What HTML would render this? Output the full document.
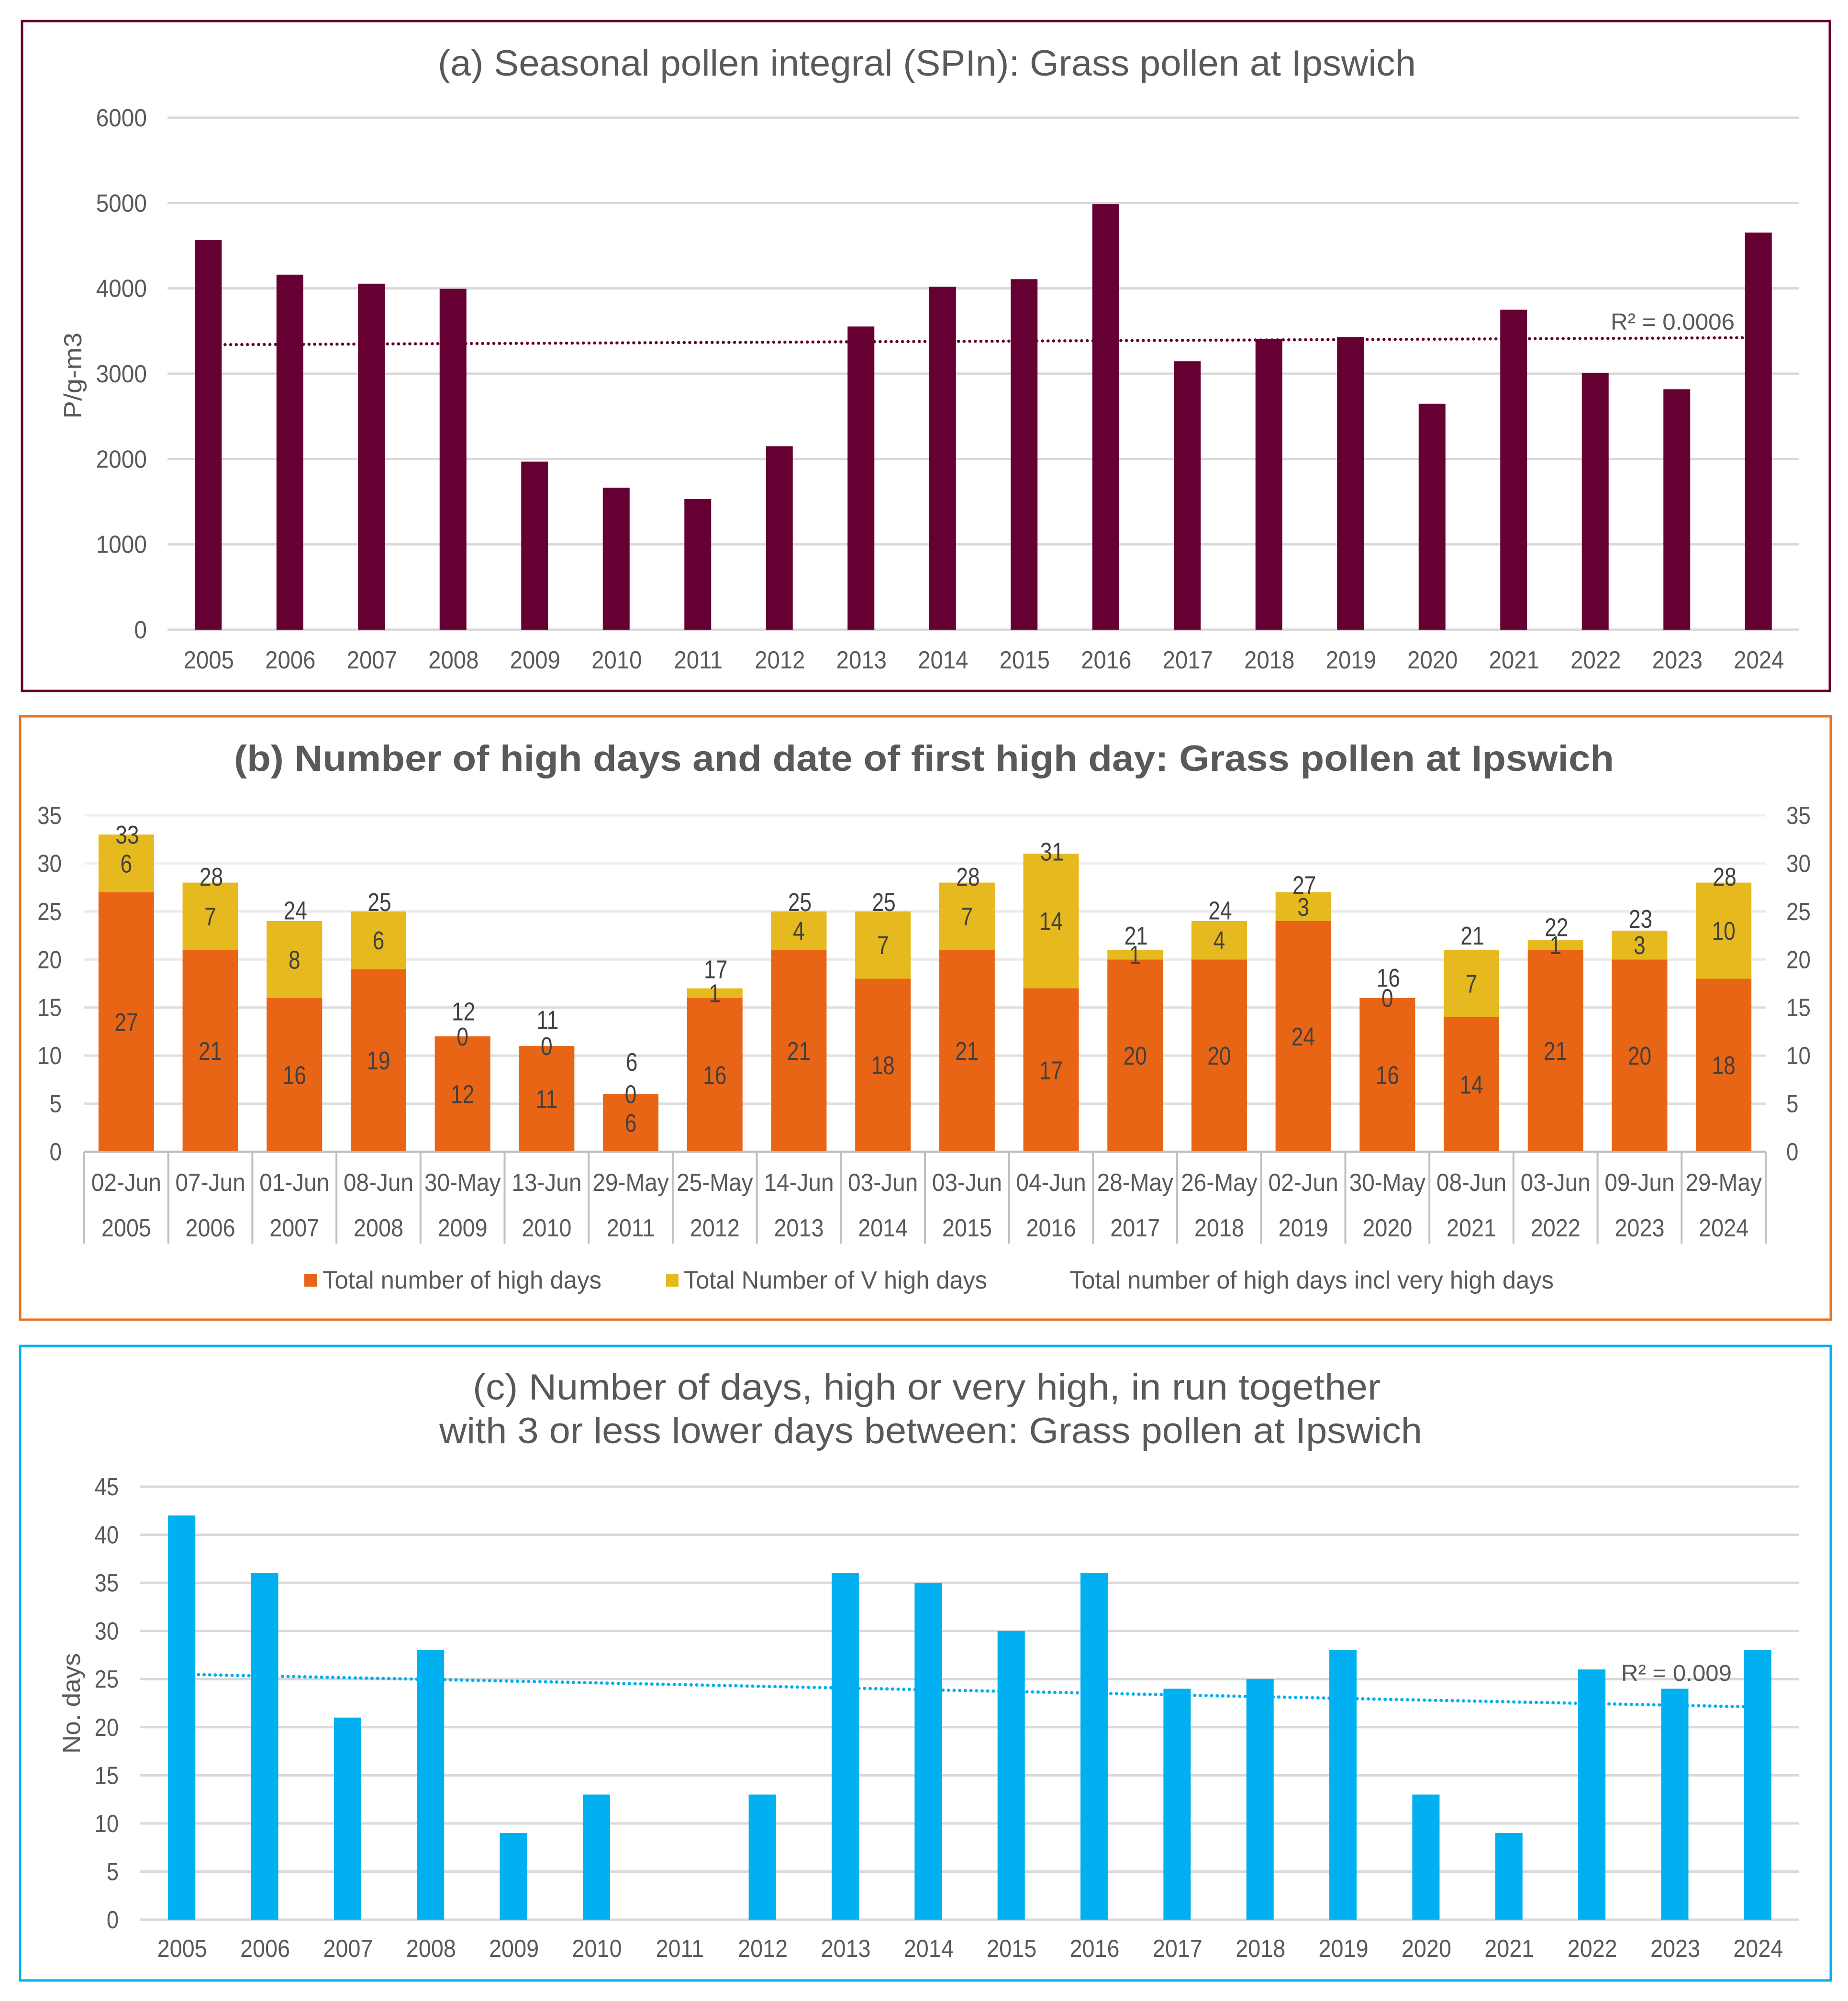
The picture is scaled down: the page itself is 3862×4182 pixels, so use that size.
<!DOCTYPE html>
<html lang="en">
<head>
<meta charset="utf-8">
<title>Grass pollen at Ipswich</title>
<style>
html,body{margin:0;padding:0;background:#fff;}
svg{display:block;}
text{font-family:"Liberation Sans",sans-serif;fill:#595959;}
</style>
</head>
<body>
<svg id="figure" xmlns="http://www.w3.org/2000/svg" width="3862" height="4182" viewBox="0 0 3862 4182">
  <rect x="0" y="0" width="3862" height="4182" fill="#ffffff"/>

  <g id="panel-a">
    <rect x="46" y="44" width="3778" height="1400" fill="none" stroke="#660033" stroke-width="5"/>
    <text x="915" y="158" font-size="76" textLength="2044" lengthAdjust="spacingAndGlyphs">(a) Seasonal pollen integral (SPIn): Grass pollen at Ipswich</text>
    <text transform="translate(170 875) rotate(-90)" font-size="52" textLength="180" lengthAdjust="spacingAndGlyphs">P/g-m3</text>
    <g id="plot-a"></g>
    <text x="3366" y="689" font-size="48" textLength="259" lengthAdjust="spacingAndGlyphs">R² = 0.0006</text>
  </g>

  <g id="panel-b">
    <rect x="42" y="1497" width="3784" height="1261" fill="none" stroke="#e8701f" stroke-width="5"/>
    <text x="489" y="1611" font-size="76" font-weight="700" textLength="2884" lengthAdjust="spacingAndGlyphs">(b) Number of high days and date of first high day: Grass pollen at Ipswich</text>
    <g id="plot-b"></g>
    <g>
      <rect x="636" y="2662" width="26" height="27" fill="#e86516"/>
      <text x="674" y="2693" font-size="52" textLength="583" lengthAdjust="spacingAndGlyphs">Total number of high days</text>
      <rect x="1392" y="2662" width="26" height="27" fill="#e6b91e"/>
      <text x="1429" y="2693" font-size="52" textLength="634" lengthAdjust="spacingAndGlyphs">Total Number of V high days</text>
      <text x="2235" y="2693" font-size="52" textLength="1012" lengthAdjust="spacingAndGlyphs">Total number of high days incl very high days</text>
    </g>
  </g>

  <g id="panel-c">
    <rect x="42" y="2813" width="3784" height="1326" fill="none" stroke="#00b0f0" stroke-width="5"/>
    <text x="988" y="2925" font-size="76" textLength="1897" lengthAdjust="spacingAndGlyphs">(c) Number of days, high or very high, in run together</text>
    <text x="918" y="3016" font-size="76" textLength="2054" lengthAdjust="spacingAndGlyphs">with 3 or less lower days between: Grass pollen at Ipswich</text>
    <text transform="translate(167 3665) rotate(-90)" font-size="52" textLength="210" lengthAdjust="spacingAndGlyphs">No. days</text>
    <g id="plot-c"></g>
    <text x="3388" y="3513" font-size="48" textLength="231" lengthAdjust="spacingAndGlyphs">R² = 0.009</text>
  </g>
</svg>

<script>
const years = [2005,2006,2007,2008,2009,2010,2011,2012,2013,2014,2015,2016,2017,2018,2019,2020,2021,2022,2023,2024];
const spinValues = [4565,4161,4055,3995,1970,1663,1531,2150,3553,4019,4108,4987,3145,3405,3430,2648,3750,3007,2818,4654];
const spinTicks = [0,1000,2000,3000,4000,5000,6000];
const firstHighDates = ["02-Jun","07-Jun","01-Jun","08-Jun","30-May","13-Jun","29-May","25-May","14-Jun","03-Jun","03-Jun","04-Jun","28-May","26-May","02-Jun","30-May","08-Jun","03-Jun","09-Jun","29-May"];
const highDays = [27,21,16,19,12,11,6,16,21,18,21,17,20,20,24,16,14,21,20,18];
const veryHighDays = [6,7,8,6,0,0,0,1,4,7,7,14,1,4,3,0,7,1,3,10];
const totalDays = [33,28,24,25,12,11,6,17,25,25,28,31,21,24,27,16,21,22,23,28];
const highDayTicks = [0,5,10,15,20,25,30,35];
const runDays = [42,36,21,28,9,13,0,13,36,35,30,36,24,25,28,13,9,26,24,28];
const runTicks = [0,5,10,15,20,25,30,35,40,45];

const NS = "http://www.w3.org/2000/svg";
function make(tag, parent, attrs) {
  const el = document.createElementNS(NS, tag);
  for (const k in attrs) el.setAttribute(k, attrs[k]);
  parent.appendChild(el);
  return el;
}
function label(parent, str, x, y, size, anchor, sx, color) {
  const el = make("text", parent, {transform: "translate(" + x + " " + y + ") scale(" + sx + " 1)", "font-size": size, "text-anchor": anchor});
  if (color) el.style.fill = color;
  el.textContent = String(str);
  return el;
}
function linearFit(values) {
  const n = values.length;
  const mx = (n - 1) / 2;
  const my = values.reduce(function (a, b) { return a + b; }, 0) / n;
  let num = 0, den = 0;
  values.forEach(function (v, i) { num += (i - mx) * (v - my); den += (i - mx) * (i - mx); });
  const slope = num / den;
  return function (i) { return my + slope * (i - mx); };
}

/* Panel (a) axes */
const aLeft = 350, aRight = 3760, aTop = 246, aBase = 1316, aMax = 6000;
const xA = function (i) { return aLeft + (i + 0.5) * (aRight - aLeft) / years.length; };
const yA = function (v) { return aBase - v * (aBase - aTop) / aMax; };
const plotA = document.getElementById("plot-a");

spinTicks.forEach(function (t) {
  const grid = make("line", plotA, {x1: aLeft, x2: aRight, y1: yA(t), y2: yA(t), stroke: "#d9d9d9", "stroke-width": 5});
  
  
  const tick = label(plotA, t, 307, yA(t) + 18, 52, "end", 0.92);
  
  
});
const fitA = linearFit(spinValues);
const trendA = make("line", plotA, {x1: xA(0), x2: xA(years.length - 1), y1: yA(fitA(0)), y2: yA(fitA(years.length - 1)), stroke: "#660033", "stroke-width": 6.5, "stroke-linecap": "round", "stroke-dasharray": "0.1 11.6"});


years.forEach(function (yr, i) {
  const bar = make("rect", plotA, {x: xA(i) - 28, y: yA(spinValues[i]), width: 56, height: aBase - yA(spinValues[i]), fill: "#660033"});
  
  
  const tick = label(plotA, yr, xA(i) + 1, 1397, 52, "middle", 0.91);
  
  
});

/* Panel (b) axes */
const bLeft = 176, bRight = 3690, bTop = 1704, bBase = 2407, bMax = 35;
const bStep = (bRight - bLeft) / years.length;
const xB = function (i) { return bLeft + (i + 0.5) * bStep; };
const yB = function (v) { return bBase - v * (bBase - bTop) / bMax; };
const plotB = document.getElementById("plot-b");

highDayTicks.forEach(function (t) {
  const shade = t >= 30 ? "#f1f1f1" : (t >= 20 ? "#e9e9e9" : "#dfdfdf");
  const grid = make("line", plotB, {x1: bLeft, x2: bRight, y1: yB(t), y2: yB(t), stroke: shade, "stroke-width": 5});
  
  
  const tickL = label(plotB, t, 129, yB(t) + 18, 52, "end", 0.88);
  
  
  const tickR = label(plotB, t, 3733, yB(t) + 18, 52, "start", 0.88);
  
  
});
years.forEach(function (yr, i) {
  const w = 116;
  const hiBar = make("rect", plotB, {x: xB(i) - w / 2, y: yB(highDays[i]), width: w, height: bBase - yB(highDays[i]), fill: "#e86516"});
  
  
  const vhBar = make("rect", plotB, {x: xB(i) - w / 2, y: yB(highDays[i] + veryHighDays[i]), width: w, height: yB(highDays[i]) - yB(highDays[i] + veryHighDays[i]), fill: "#e6b91e"});
  
  
});
for (let i = 0; i <= years.length; i++) {
  const sep = make("line", plotB, {x1: bLeft + i * bStep, x2: bLeft + i * bStep, y1: bBase, y2: 2599, stroke: "#bfbfbf", "stroke-width": 4});
  
  
}
const axisB = make("line", plotB, {x1: bLeft, x2: bRight, y1: bBase, y2: bBase, stroke: "#bfbfbf", "stroke-width": 4});


years.forEach(function (yr, i) {
  const dark = "#404040";
  const hiLab = label(plotB, highDays[i], xB(i), yB(highDays[i] / 2) + 19, 54, "middle", 0.82, dark);
  
  
  const vhLab = label(plotB, veryHighDays[i], xB(i), yB(highDays[i] + veryHighDays[i] / 2) + 19, 54, "middle", 0.82, dark);
  
  
  const lift = 2.5 * (33 - totalDays[i]);
  const totLab = label(plotB, totalDays[i], xB(i) + 2, yB(totalDays[i]) - lift + 19, 54, "middle", 0.82, dark);
  
  
  const dateLab = label(plotB, firstHighDates[i], xB(i), 2489, 52, "middle", 0.92);
  
  
  const yearLab = label(plotB, yr, xB(i), 2584, 52, "middle", 0.9);
  
  
});

/* Panel (c) axes */
const cLeft = 293, cRight = 3760, cTop = 3107, cBase = 4012, cMax = 45;
const xC = function (i) { return cLeft + (i + 0.5) * (cRight - cLeft) / years.length; };
const yC = function (v) { return cBase - v * (cBase - cTop) / cMax; };
const plotC = document.getElementById("plot-c");

runTicks.forEach(function (t) {
  const grid = make("line", plotC, {x1: cLeft, x2: cRight, y1: yC(t), y2: yC(t), stroke: "#d9d9d9", "stroke-width": 5});
  
  
  const tick = label(plotC, t, 248, yC(t) + 18, 52, "end", 0.87);
  
  
});
const fitC = linearFit(runDays);
const trendC = make("line", plotC, {x1: xC(0), x2: xC(years.length - 1), y1: yC(fitC(0)), y2: yC(fitC(years.length - 1)), stroke: "#00b0f0", "stroke-width": 7, "stroke-linecap": "round", "stroke-dasharray": "0.1 11.6"});


years.forEach(function (yr, i) {
  const bar = make("rect", plotC, {x: xC(i) - 28.5, y: yC(runDays[i]), width: 57, height: cBase - yC(runDays[i]), fill: "#00b0f0"});
  
  
  const tick = label(plotC, yr, xC(i) + 1, 4090, 52, "middle", 0.9);
  
  
});
</script>
</body>
</html>
